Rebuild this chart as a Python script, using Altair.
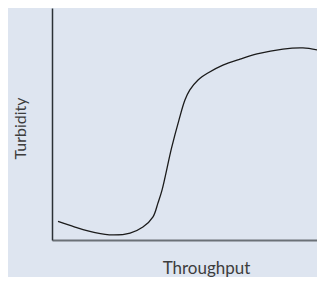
import altair as alt
import pandas as pd

# Curve (arbitrary units, 0-100 on both axes)
throughput = [2.2, 8.4, 15.8, 22.3, 28.6, 33.3, 37.0, 38.8, 40.3, 43.8,
              46.5, 48.7, 50.5, 53.5, 57.1, 62.6, 68.9, 75.1, 84.6, 91.9, 97.4]
turbidity = [8.0, 5.6, 3.2, 2.2, 3.0, 5.6, 10.0, 15.9, 21.5, 39.7,
             51.7, 60.3, 64.7, 69.0, 72.0, 75.4, 78.0, 80.2, 82.3, 82.8, 81.9]

df = pd.DataFrame({"Throughput": throughput, "Turbidity": turbidity})

BG = "#dee5f0"
FONT = "Lato"

chart = (
    alt.Chart(df)
    .mark_line(interpolate="catmull-rom", color="#1b1b1b", strokeWidth=1.3)
    .encode(
        x=alt.X(
            "Throughput:Q",
            scale=alt.Scale(domain=[0, 97.07], nice=False, zero=False),
            axis=alt.Axis(
                title="Throughput", ticks=False, labels=False, grid=False,
                domainColor="#6b7177", domainWidth=2,
                titleFont=FONT, titleFontSize=17, titleFontWeight="normal",
                titleColor="#3d3d3d", titleX=154, titleY=33,
                titleBaseline="alphabetic", titleAlign="center",
            ),
        ),
        y=alt.Y(
            "Turbidity:Q",
            scale=alt.Scale(domain=[0, 100], nice=False, zero=False),
            axis=alt.Axis(
                title="Turbidity", ticks=False, labels=False, grid=False,
                domainColor="#2b3036", domainWidth=1.5,
                titleFont=FONT, titleFontSize=16, titleFontWeight="normal",
                titleColor="#3d3d3d", titleX=-27, titleY=120, titleAngle=270,
                titleBaseline="alphabetic", titleAlign="center",
            ),
        ),
    )
    .properties(
        width=265,
        height=232,
        background=BG,
        padding={"left": 44, "top": 0, "right": 0, "bottom": 37},
        autosize=alt.AutoSizeParams(type="none"),
    )
    .configure_view(stroke=None)
)

chart.save("out.html", embed_options={"renderer": "svg", "actions": False})
